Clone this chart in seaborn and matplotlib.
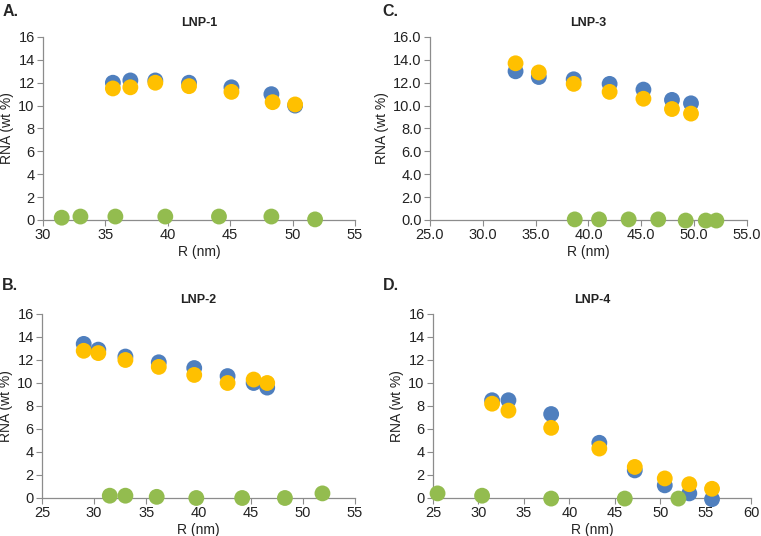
import numpy as np
import pandas as pd
import matplotlib
matplotlib.use("Agg")
import matplotlib.pyplot as plt
from matplotlib.ticker import FormatStrFormatter
import seaborn as sns

sns.set_style("white")
plt.rcParams['font.family'] = ['Liberation Sans', 'DejaVu Sans']

# ---- data ----
# LNP-1
a_blue_x = [35.6, 37.0, 39.0, 41.7, 45.1, 48.3, 50.2]
a_blue_y = [12.0, 12.2, 12.2, 12.0, 11.6, 11.0, 10.0]
a_yel_x = [35.6, 37.0, 39.0, 41.7, 45.1, 48.4, 50.2]
a_yel_y = [11.5, 11.6, 12.0, 11.7, 11.2, 10.3, 10.1]
a_grn_x = [31.5, 33.0, 35.8, 39.8, 44.1, 48.3, 51.8]
a_grn_y = [0.2, 0.3, 0.3, 0.3, 0.3, 0.3, 0.05]

# LNP-2
b_blue_x = [29.0, 30.4, 33.0, 36.2, 39.6, 42.8, 45.3, 46.6]
b_blue_y = [13.4, 12.9, 12.3, 11.8, 11.3, 10.6, 10.0, 9.6]
b_yel_x = [29.0, 30.4, 33.0, 36.2, 39.6, 42.8, 45.3, 46.6]
b_yel_y = [12.8, 12.6, 12.0, 11.4, 10.7, 10.0, 10.3, 10.0]
b_grn_x = [31.5, 33.0, 36.0, 39.8, 44.2, 48.3, 51.9]
b_grn_y = [0.2, 0.2, 0.1, 0.0, 0.0, 0.0, 0.4]

# LNP-3
c_blue_x = [33.1, 35.3, 38.6, 42.0, 45.2, 47.9, 49.7]
c_blue_y = [13.0, 12.5, 12.3, 11.9, 11.4, 10.5, 10.2]
c_yel_x = [33.1, 35.3, 38.6, 42.0, 45.2, 47.9, 49.7]
c_yel_y = [13.7, 12.9, 11.9, 11.2, 10.6, 9.7, 9.3]
c_grn_x = [38.7, 41.0, 43.8, 46.6, 49.2, 51.1, 52.1]
c_grn_y = [0.05, 0.05, 0.05, 0.05, -0.05, -0.05, -0.05]

# LNP-4
d_blue_x = [31.5, 33.3, 38.0, 43.3, 47.2, 50.5, 53.2, 55.7]
d_blue_y = [8.5, 8.5, 7.3, 4.8, 2.4, 1.1, 0.4, -0.1]
d_yel_x = [31.5, 33.3, 38.0, 43.3, 47.2, 50.5, 53.2, 55.7]
d_yel_y = [8.2, 7.6, 6.1, 4.3, 2.7, 1.7, 1.2, 0.8]
d_grn_x = [25.5, 30.4, 38.0, 46.1, 52.0]
d_grn_y = [0.4, 0.2, -0.05, -0.05, -0.05]

titles = ['LNP-1', 'LNP-2', 'LNP-3', 'LNP-4']
letters = ['A.', 'B.', 'C.', 'D.']
xlims = [(30, 55), (25, 55), (25, 55), (25, 60)]
colors = {'blue': '#4F7FBE', 'yellow': '#FFC000', 'green': '#93BC4F'}

panels = [
    (a_blue_x, a_blue_y, a_yel_x, a_yel_y, a_grn_x, a_grn_y),
    (b_blue_x, b_blue_y, b_yel_x, b_yel_y, b_grn_x, b_grn_y),
    (c_blue_x, c_blue_y, c_yel_x, c_yel_y, c_grn_x, c_grn_y),
    (d_blue_x, d_blue_y, d_yel_x, d_yel_y, d_grn_x, d_grn_y),
]

# axes rectangles (fig fraction) for A, B, C, D
rects = [
    [0.0565, 0.5896, 0.410, 0.3414],
    [0.0552, 0.0709, 0.411, 0.3433],
    [0.5650, 0.5896, 0.4166, 0.3414],
    [0.5690, 0.0709, 0.4180, 0.3433],
]
letter_pos = [(0.003, 0.978), (0.003, 0.468), (0.503, 0.978), (0.503, 0.468)]

fig = plt.figure(figsize=(7.61, 5.36), dpi=100)
spine_col = '#8C8C8C'

for i, (bx, by, yx, yy, gx, gy) in enumerate(panels):
    ax = fig.add_axes(rects[i])
    df = pd.concat([
        pd.DataFrame({'R': bx, 'RNA': by, 's': 'blue'}),
        pd.DataFrame({'R': yx, 'RNA': yy, 's': 'yellow'}),
        pd.DataFrame({'R': gx, 'RNA': gy, 's': 'green'}),
    ], ignore_index=True)
    sns.scatterplot(data=df, x='R', y='RNA', hue='s', palette=colors, s=130,
                    linewidth=0, legend=False, ax=ax, zorder=3, clip_on=False)
    ax.set_xlim(*xlims[i])
    ax.set_ylim(0, 16)
    ax.set_yticks(np.arange(0, 17, 2))
    ax.set_xticks(np.arange(xlims[i][0], xlims[i][1] + 1, 5))
    if i == 2:
        ax.yaxis.set_major_formatter(FormatStrFormatter('%.1f'))
        ax.xaxis.set_major_formatter(FormatStrFormatter('%.1f'))
    for side in ['top', 'right']:
        ax.spines[side].set_visible(False)
    for side in ['left', 'bottom']:
        ax.spines[side].set_color(spine_col)
        ax.spines[side].set_linewidth(0.9)
    ax.tick_params(axis='both', direction='out', length=4, width=0.8,
                   color=spine_col, labelsize=10.5, labelcolor='#222222', pad=2)
    ax.tick_params(axis='x', bottom=True)
    ax.tick_params(axis='y', left=True)
    ax.set_xlabel('R (nm)', fontsize=10, color='#222222', labelpad=2)
    ax.set_ylabel('RNA (wt %)', fontsize=10, color='#222222', labelpad=3)
    ax.set_title(titles[i], fontsize=9, fontweight='bold', color='#222222', pad=8)
    fig.text(letter_pos[i][0], letter_pos[i][1], letters[i], fontsize=11.5,
             fontweight='bold', ha='left', va='center')

fig.savefig('out.png', dpi=100, facecolor='white')
